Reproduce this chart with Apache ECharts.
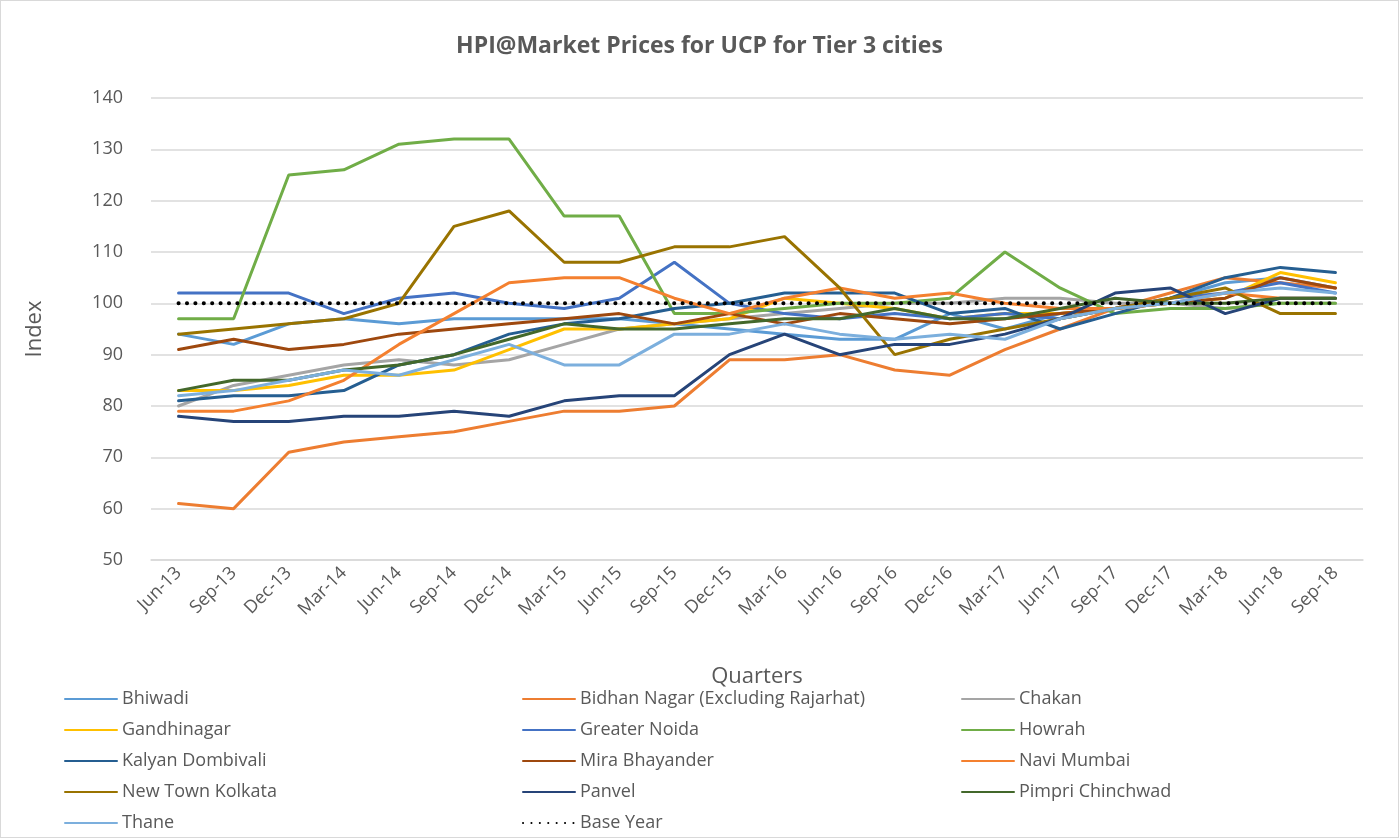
<!DOCTYPE html>
<html>
<head>
<meta charset="utf-8">
<script src="https://cdn.jsdelivr.net/npm/echarts@6/dist/echarts.min.js"></script>
<style>
  html, body { margin: 0; padding: 0; background: #fff; }
  #chart { width: 1397px; height: 836px; border: 1px solid #D9D9D9; }
</style>
</head>
<body>
<div id="chart"></div>
<script>
// quarters on the x axis
var quarters = ['Jun-13', 'Sep-13', 'Dec-13', 'Mar-14', 'Jun-14', 'Sep-14', 'Dec-14', 'Mar-15',
    'Jun-15', 'Sep-15', 'Dec-15', 'Mar-16', 'Jun-16', 'Sep-16', 'Dec-16', 'Mar-17',
    'Jun-17', 'Sep-17', 'Dec-17', 'Mar-18', 'Jun-18', 'Sep-18'];

// index values
var bhiwadi      = [94, 92, 96, 97, 96, 97, 97, 97, 97, 96, 95, 94, 93, 93, 98, 95, 98, 99, 101, 104, 105, 103];
var bidhanNagar  = [61, 60, 71, 73, 74, 75, 77, 79, 79, 80, 89, 89, 90, 87, 86, 91, 95, 99, 102, 105, 104, 103];
var chakan       = [80, 84, 86, 88, 89, 88, 89, 92, 95, 96, 97, 98, 99, 100, 100, 101, 101, 100, 100, 99, 100, 100];
var gandhinagar  = [83, 83, 84, 86, 86, 87, 91, 95, 95, 96, 97, 101, 100, 99, 97, 98, 98, 99, 100, 101, 106, 104];
var greaterNoida = [102, 102, 102, 98, 101, 102, 100, 99, 101, 108, 100, 98, 97, 98, 97, 98, 97, 99, 101, 102, 104, 102];
var howrah       = [97, 97, 125, 126, 131, 132, 132, 117, 117, 98, 98, 99, 100, 100, 101, 110, 103, 98, 99, 99, 100, 100];
var kalyan       = [81, 82, 82, 83, 88, 90, 94, 96, 97, 99, 100, 102, 102, 102, 98, 99, 95, 98, 101, 105, 107, 106];
var mira         = [91, 93, 91, 92, 94, 95, 96, 97, 98, 96, 98, 96, 98, 97, 96, 97, 98, 99, 100, 101, 105, 103];
var naviMumbai   = [79, 79, 81, 85, 92, 98, 104, 105, 105, 101, 98, 101, 103, 101, 102, 100, 99, 99, 100, 102, 101, 101];
var newTown      = [94, 95, 96, 97, 100, 115, 118, 108, 108, 111, 111, 113, 103, 90, 93, 95, 97, 99, 101, 103, 98, 98];
var panvel       = [78, 77, 77, 78, 78, 79, 78, 81, 82, 82, 90, 94, 90, 92, 92, 94, 97, 102, 103, 98, 101, 101];
var pimpri       = [83, 85, 85, 87, 88, 90, 93, 96, 95, 95, 96, 97, 97, 99, 97, 97, 99, 101, 100, 100, 101, 101];
var thane        = [82, 83, 85, 87, 86, 89, 92, 88, 88, 94, 94, 96, 94, 93, 94, 93, 97, 99, 100, 102, 103, 102];
var baseYear     = [100, 100, 100, 100, 100, 100, 100, 100, 100, 100, 100, 100, 100, 100, 100, 100, 100, 100, 100, 100, 100, 100];

var FONT = "'Open Sans', 'Noto Sans', sans-serif";
var TXT = '#595959';

function line(name, data, color, type, width) {
    return {
        name: name,
        type: 'line',
        data: data,
        symbol: 'none',
        showSymbol: false,
        silent: true,
        lineStyle: { color: color, width: width || 3, type: type || 'solid', cap: 'round' },
        itemStyle: { color: color }
    };
}

// one legend per column, like the three columns under the chart
function legendCol(left, names) {
    return {
        orient: 'vertical',
        left: left,
        top: 689,
        height: 150,
        padding: 0,
        itemWidth: 52,
        itemHeight: 14,
        itemGap: 13,
        data: names,
        itemStyle: { opacity: 0 },
        textStyle: { color: TXT, fontSize: 18, fontFamily: FONT }
    };
}

var myChart = echarts.init(document.getElementById('chart'));
myChart.setOption({
    animation: false,
    backgroundColor: '#fff',
    title: {
        text: 'HPI@Market Prices for UCP for Tier 3 cities',
        left: 'center',
        top: 29,
        textStyle: { color: TXT, fontSize: 23, fontWeight: 'bold', fontFamily: FONT }
    },
    legend: [
        legendCol(63, ['Bhiwadi', 'Gandhinagar', 'Kalyan Dombivali', 'New Town Kolkata', 'Thane']),
        legendCol(521, ['Bidhan Nagar (Excluding Rajarhat)', 'Greater Noida', 'Mira Bhayander', 'Panvel', 'Base Year']),
        legendCol(960, ['Chakan', 'Howrah', 'Navi Mumbai', 'Pimpri Chinchwad'])
    ],
    grid: { left: 150, right: 35, top: 97, bottom: 277, containLabel: false },
    xAxis: {
        type: 'category',
        data: quarters,
        boundaryGap: true,
        name: 'Quarters',
        nameLocation: 'middle',
        nameGap: 106,
        nameTextStyle: { color: TXT, fontSize: 22, fontFamily: FONT },
        axisLine: { lineStyle: { color: '#D9D9D9', width: 1.5 } },
        axisTick: { show: false },
        axisLabel: { rotate: 45, color: TXT, fontSize: 18, fontFamily: FONT, margin: 10, interval: 0 }
    },
    yAxis: {
        type: 'value',
        min: 50,
        max: 140,
        interval: 10,
        name: 'Index',
        nameLocation: 'middle',
        nameGap: 105,
        nameTextStyle: { color: TXT, fontSize: 22, fontFamily: FONT },
        axisLine: { show: false },
        axisTick: { show: false },
        axisLabel: { color: TXT, fontSize: 18, fontFamily: FONT, margin: 28 },
        splitLine: { lineStyle: { color: '#D9D9D9', width: 1.5 } }
    },
    series: [
        line('Bhiwadi', bhiwadi, '#5B9BD5'),
        line('Bidhan Nagar (Excluding Rajarhat)', bidhanNagar, '#ED7D31'),
        line('Chakan', chakan, '#A5A5A5'),
        line('Gandhinagar', gandhinagar, '#FFC000'),
        line('Greater Noida', greaterNoida, '#4472C4'),
        line('Howrah', howrah, '#70AD47'),
        line('Kalyan Dombivali', kalyan, '#255E91'),
        line('Mira Bhayander', mira, '#9E480E'),
        line('Navi Mumbai', naviMumbai, '#F4802F'),
        line('New Town Kolkata', newTown, '#997300'),
        line('Panvel', panvel, '#264478'),
        line('Pimpri Chinchwad', pimpri, '#43682B'),
        line('Thane', thane, '#7CAFDD'),
        line('Base Year', baseYear, '#000000', [0.1, 8.3], 4)
    ]
});
</script>
</body>
</html>
